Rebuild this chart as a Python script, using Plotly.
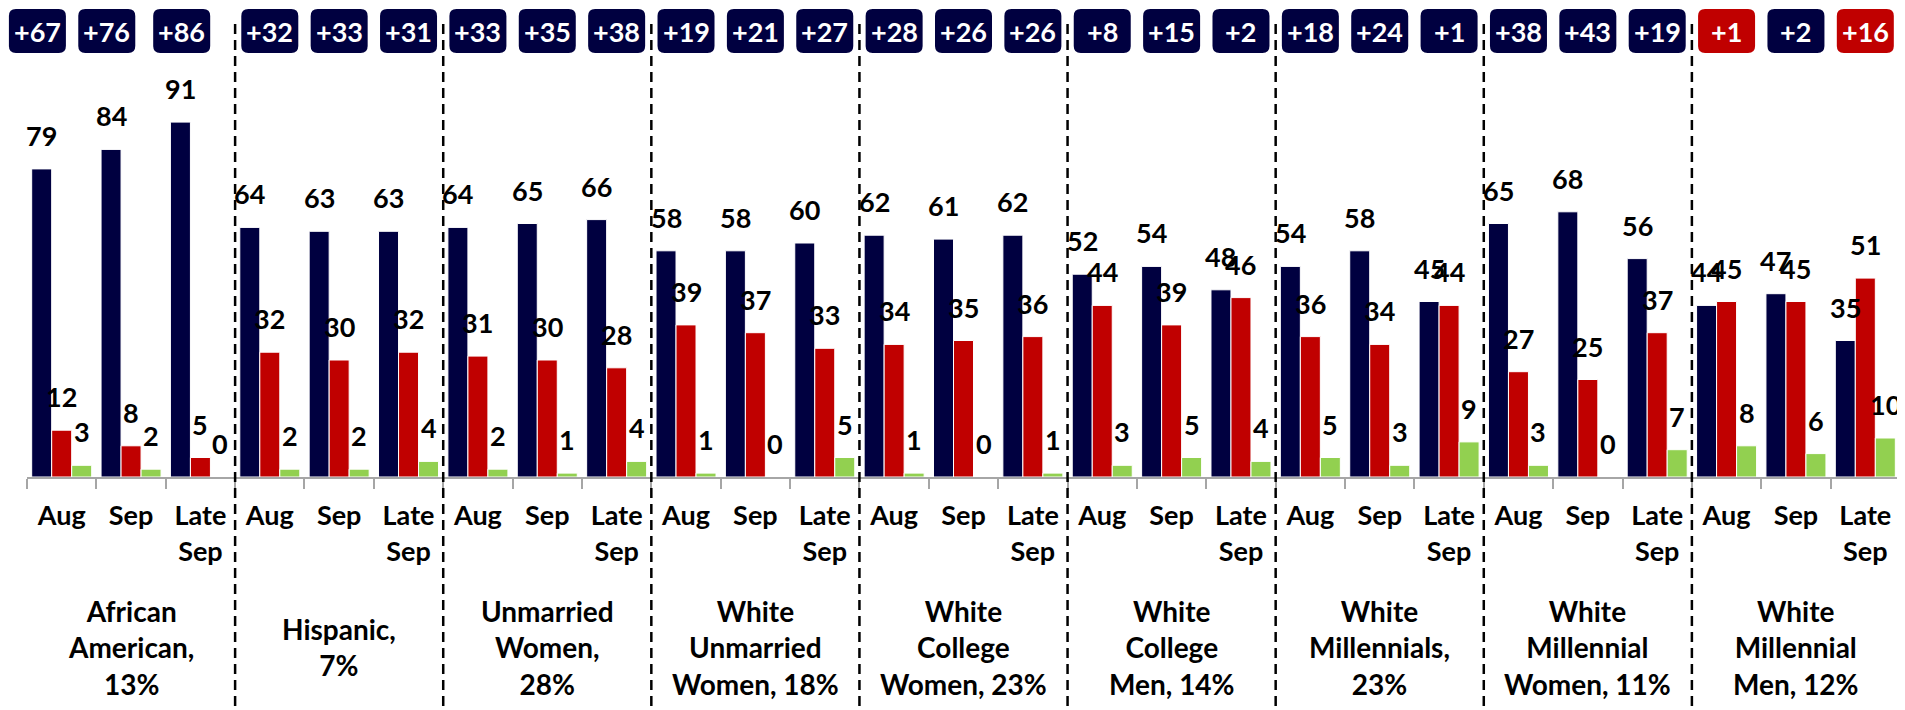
import plotly.graph_objects as go

# ---------------- data ----------------
groups = [
    "African<br>American,<br>13%",
    "Hispanic,<br>7%",
    "Unmarried<br>Women,<br>28%",
    "White<br>Unmarried<br>Women, 18%",
    "White<br>College<br>Women, 23%",
    "White<br>College<br>Men, 14%",
    "White<br>Millennials,<br>23%",
    "White<br>Millennial<br>Women, 11%",
    "White<br>Millennial<br>Men, 12%",
]
periods = ["Aug", "Sep", "Late<br>Sep"]

navy_vals = [79, 84, 91, 64, 63, 63, 64, 65, 66, 58, 58, 60, 62, 61, 62,
             52, 54, 48, 54, 58, 45, 65, 68, 56, 44, 47, 35]
red_vals = [12, 8, 5, 32, 30, 32, 31, 30, 28, 39, 37, 33, 34, 35, 36,
            44, 39, 46, 36, 34, 44, 27, 25, 37, 45, 45, 51]
green_vals = [3, 2, 0, 2, 2, 4, 2, 1, 4, 1, 0, 5, 1, 0, 1,
              3, 5, 4, 5, 3, 9, 3, 0, 7, 8, 6, 10]
# signed margin: positive = navy lead, negative = red lead
margins = [67, 76, 86, 32, 33, 31, 33, 35, 38, 19, 21, 27, 28, 26, 26,
           8, 15, 2, 18, 24, 1, 38, 43, 19, -1, 2, -16]

# ---------------- style ----------------
NAVY = "#000040"
RED = "#C00000"
GREEN = "#92D050"
AXIS_GRAY = "#A6A6A6"
FONT = "Lato, Liberation Sans Narrow, sans-serif"
FS = 27

# page has an 8px body margin; figure origin sits at (8, 8)
OFF = 8
W, H = 1905 - OFF, 710 - OFF
PLOT_L, PLOT_R, PLOT_T, PLOT_B = 27, 1900, 87, 477   # page pixel coords
ML, MR = PLOT_L - OFF, W - (PLOT_R - OFF)
MT, MB = PLOT_T - OFF, H - (PLOT_B - OFF)
plot_h = PLOT_B - PLOT_T
plot_w = PLOT_R - PLOT_L

n = len(navy_vals)
xpos = list(range(n))
ticktext = ["<b>%s</b>" % periods[i % 3] for i in range(n)]
cat_px = plot_w / n

BARGAP = 0.135
bw = (1 - BARGAP) / 3

fig = go.Figure()
for vals, col in [(navy_vals, NAVY), (red_vals, RED), (green_vals, GREEN)]:
    fig.add_trace(go.Bar(
        x=xpos, y=vals,
        marker=dict(color=col, line=dict(color="white", width=1)),
        hoverinfo="skip", showlegend=False,
    ))

annotations = []
shapes = []

# data labels
for k, vals in enumerate([navy_vals, red_vals, green_vals]):
    off = (k - 1) * bw
    for i, v in enumerate(vals):
        annotations.append(dict(
            x=i + off, y=v, xref="x", yref="y",
            text="<b>%d</b>" % v, showarrow=False,
            yanchor="bottom", xanchor="center", yshift=15,
            font=dict(family=FONT, size=FS, color="black"),
        ))


def py(pix):  # page pixel y -> paper
    return (PLOT_B - pix) / plot_h


def px_idx(xi):  # category index -> paper x
    return (xi + 0.5) / n


# margin badges (paper coords so they are not clipped to the plot area)
badge_top, badge_bot = py(9), py(53)
bhw = 28.5 / plot_w
rx = 7 / plot_w
ry = 7 / plot_h
first_group_shift = [-0.35, -0.35, -0.27]
for i, m in enumerate(margins):
    col = NAVY if m > 0 else RED
    xc = px_idx(i + (first_group_shift[i] if i < 3 else 0))
    x0, x1 = xc - bhw, xc + bhw
    y0, y1 = badge_bot, badge_top
    path = (f"M {x0+rx},{y0} L {x1-rx},{y0} Q {x1},{y0} {x1},{y0+ry} "
            f"L {x1},{y1-ry} Q {x1},{y1} {x1-rx},{y1} L {x0+rx},{y1} "
            f"Q {x0},{y1} {x0},{y1-ry} L {x0},{y0+ry} Q {x0},{y0} {x0+rx},{y0} Z")
    shapes.append(dict(type="path", path=path, xref="paper", yref="paper",
                       fillcolor=col, line=dict(width=0), layer="above"))
    annotations.append(dict(
        x=xc, y=(badge_top + badge_bot) / 2, xref="paper", yref="paper",
        text="<b>+%d</b>" % abs(m), showarrow=False,
        xanchor="center", yanchor="middle",
        font=dict(family=FONT, size=FS, color="white"),
    ))

# group separators
for g in range(len(groups) - 1):
    xb = px_idx(3 * (g + 1) - 0.5)
    shapes.append(dict(type="line", xref="paper", yref="paper",
                       x0=xb, x1=xb, y0=py(24), y1=py(712),
                       line=dict(color="black", width=2.5, dash="10px,6px")))

# group labels
for g, name in enumerate(groups):
    annotations.append(dict(
        x=3 * g + 1, y=py(647), xref="x", yref="paper",
        text="<b>%s</b>" % name, showarrow=False,
        xanchor="center", yanchor="middle", align="center",
        font=dict(family=FONT, size=FS + 1, color="black"),
    ))

fig.update_layout(
    width=W, height=H,
    margin=dict(l=ML, r=MR, t=MT, b=MB, pad=0),
    paper_bgcolor="white", plot_bgcolor="white",
    barmode="group", bargap=BARGAP, bargroupgap=0,
    annotations=annotations, shapes=shapes,
    font=dict(family=FONT, size=FS, color="black"),
    xaxis=dict(
        range=[-0.5, n - 0.5], tickmode="array", tickvals=xpos, ticktext=ticktext,
        ticks="", showgrid=False, zeroline=False,
        showline=True, linecolor=AXIS_GRAY, linewidth=2,
        ticklabelstandoff=14, automargin=False,
        tickfont=dict(family=FONT, size=FS, color="black"),
        minor=dict(tickmode="array", tickvals=[i - 0.5 for i in range(n + 1)],
                   ticks="outside", ticklen=10, tickwidth=2, tickcolor=AXIS_GRAY,
                   showgrid=False),
        fixedrange=True,
    ),
    yaxis=dict(range=[0, 100], visible=False, showgrid=False, zeroline=False,
               fixedrange=True),
)

fig.write_html("out.html")
